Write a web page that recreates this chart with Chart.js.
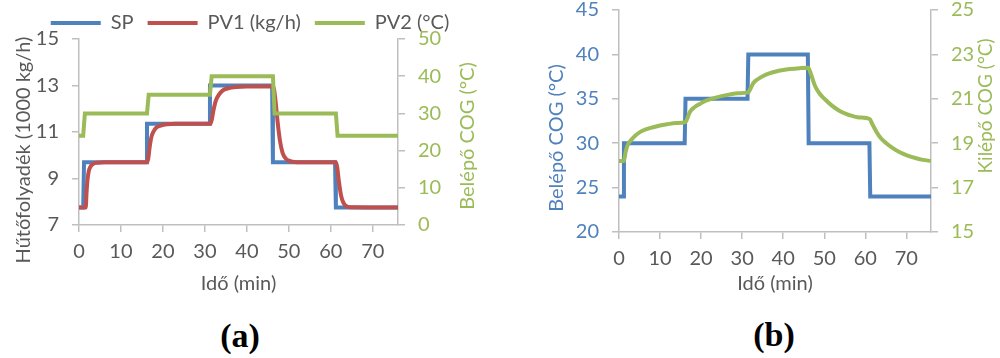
<!DOCTYPE html>
<html>
<head>
<meta charset="utf-8">
<script src="https://cdn.jsdelivr.net/npm/chart.js@4.4.1/dist/chart.umd.min.js"></script>
<style>
  body { margin: 0; background: #fff; }
  #wrap { position: relative; width: 1000px; height: 358px; }
  canvas { position: absolute; top: 0; }
  #chartA { left: 0; }
  #chartB { left: 500px; }
  .tag {
    position: absolute;
    font-family: "Liberation Serif", "Times New Roman", serif;
    font-weight: bold;
    font-size: 34px;
    transform: translate(-50%, -50%);
  }
</style>
</head>
<body>
<div id="wrap">
  <canvas id="chartA" width="500" height="300"></canvas>
  <canvas id="chartB" width="500" height="300"></canvas>
  <div class="tag" style="left:240px; top:336px">(a)</div>
  <div class="tag" style="left:774px; top:335px">(b)</div>
</div>
<script>
// --- data (time in min) ---

// (a) cooling liquid flow, SP and PV1 in 1000 kg/h, PV2 in °C
const spTime = [0, 1, 1.2, 16, 16.2, 31, 31.2, 46, 46.2, 61, 61.2, 76];
const spFlow = [7.75, 7.75, 9.7, 9.7, 11.35, 11.35, 13, 13, 9.7, 9.7, 7.75, 7.75];

const pv1Time = [0, 1.6, 1.8, 2.0, 2.3, 2.7, 3.3, 4.5, 6,
  16.2, 16.5, 16.8, 17.2, 17.7, 18.5, 19.5, 21, 23,
  31.3, 31.6, 32.0, 32.6, 33.3, 34.2, 35.5, 37.5, 40, 46.2,
  46.5, 46.9, 47.4, 47.9, 48.5, 49.3, 50.5, 52,
  61.2, 61.5, 61.9, 62.4, 63, 63.8, 65, 76];
const pv1Flow = [7.75, 7.75, 8.4, 8.9, 9.3, 9.5, 9.62, 9.68, 9.7,
  9.7, 9.85, 10.3, 10.75, 11.0, 11.2, 11.28, 11.33, 11.35,
  11.35, 11.5, 11.9, 12.35, 12.6, 12.78, 12.88, 12.94, 12.96, 12.96,
  12.8, 12.2, 11.3, 10.6, 10.1, 9.85, 9.74, 9.7,
  9.7, 9.5, 8.9, 8.3, 7.95, 7.8, 7.76, 7.75];

const pv2Time = [0, 1, 1.4, 16.2, 16.6, 31.2, 31.6, 46.2, 46.6, 61.2, 61.6, 76];
const pv2Temp = [24, 24, 30, 30, 35, 35, 40, 40, 30, 30, 24, 24];

// (b) inlet and outlet COG temperature, °C
const inTime = [0, 1, 1.2, 16, 16.2, 31.3, 31.5, 46, 46.2, 61, 61.2, 76];
const inTemp = [24, 24, 30, 30, 35, 35, 40, 40, 30, 30, 24, 24];

const outTime = [0, 1.2, 1.6, 2.2, 3.0, 4.0, 5.1, 6.5, 8.3, 10, 11.6, 14, 16.2,
  16.6, 17.3, 18.4, 19.7, 21, 22.9, 25, 27, 29, 31.5,
  32, 32.7, 33.8, 35.1, 36.6, 38.4, 40, 41.6, 44, 46.1,
  46.6, 47.7, 48.8, 50.1, 51.5, 53, 54.5, 56.2, 58.5, 61.1,
  61.6, 62.7, 63.8, 65.1, 66.7, 68.4, 70.3, 72.4, 74, 76];
const outTemp = [18.2, 18.2, 18.6, 18.95, 19.15, 19.35, 19.5, 19.62, 19.72, 19.8, 19.85, 19.91, 19.95,
  20.1, 20.42, 20.62, 20.77, 20.9, 21.02, 21.12, 21.2, 21.25, 21.29,
  21.45, 21.7, 21.88, 22.03, 22.15, 22.24, 22.3, 22.34, 22.38, 22.4,
  22.2, 21.6, 21.25, 20.99, 20.75, 20.54, 20.38, 20.26, 20.16, 20.09,
  19.9, 19.52, 19.22, 19.0, 18.78, 18.59, 18.44, 18.32, 18.25, 18.2];

// --- styling ---
const BLUE = '#4F81BD';
const RED = '#C0504D';
const GREEN = '#9BBB59';
const GRAY = '#595959';
const AXIS = '#BFBFBF';
const FONT = 'Lato';
const FS = 20;

const pts = (xs, ys) => xs.map((x, i) => ({ x: x, y: ys[i] }));

// vertical axis titles, drawn bottom-to-top like Excel does on both sides
const titlePlugin = (items) => ({
  id: 'axisTitles',
  afterDraw(chart) {
    const ctx = chart.ctx;
    items.forEach(t => {
      ctx.save();
      ctx.translate(t.x, t.y);
      ctx.rotate(-Math.PI / 2);
      ctx.font = `${t.size || FS}px ${FONT}`;
      ctx.fillStyle = t.color;
      ctx.textAlign = 'center';
      ctx.textBaseline = 'middle';
      ctx.fillText(t.text, 0, 0);
      ctx.restore();
    });
  }
});

// the legend sits a bit closer to the plot in the original
const legendNudge = {
  id: 'legendNudge',
  afterLayout(chart) {
    chart.legend.top += 4;
    chart.legend.bottom += 4;
  }
};

const xAxis = (h) => ({
  type: 'linear', min: 0, max: 76,
  ticks: { stepSize: 10, includeBounds: false, color: GRAY, padding: 8, maxRotation: 0,
           font: { family: FONT, size: FS } },
  grid: { drawOnChartArea: false, tickLength: 7, color: AXIS, lineWidth: 1.5 },
  border: { color: AXIS, width: 1.5 },
  title: { display: true, text: 'Idő (min)', color: GRAY, font: { family: FONT, size: FS },
           padding: { top: 0, bottom: 4 } },
  afterFit: s => { s.height = h; s.paddingLeft = 0; s.paddingRight = 0; }
});

const yAxis = (pos, min, max, step, color, w) => ({
  type: 'linear', position: pos, min: min, max: max,
  ticks: { stepSize: step, color: color, padding: 13, font: { family: FONT, size: FS } },
  grid: { drawOnChartArea: false, tickLength: 7, color: AXIS, lineWidth: 1.5 },
  border: { color: AXIS, width: 1.5 },
  afterFit: s => { s.width = w; s.paddingTop = 0; s.paddingBottom = 0; }
});

const common = {
  responsive: false,
  animation: false,
  devicePixelRatio: 1,
  datasets: { scatter: { showLine: true, pointRadius: 0, pointHoverRadius: 0, borderWidth: 4, pointStyle: 'line' } },
};

new Chart(document.getElementById('chartA'), {
  type: 'scatter',
  data: {
    datasets: [
      { label: 'SP', data: pts(spTime, spFlow), borderColor: BLUE, backgroundColor: BLUE, yAxisID: 'y', order: 2 },
      { label: 'PV1 (kg/h)', data: pts(pv1Time, pv1Flow), borderColor: RED, backgroundColor: RED, yAxisID: 'y', order: 1,
        cubicInterpolationMode: 'monotone' },
      { label: 'PV2 (°C)', data: pts(pv2Time, pv2Temp), borderColor: GREEN, backgroundColor: GREEN, yAxisID: 'y2', order: 0 }
    ]
  },
  options: {
    ...common,
    layout: { autoPadding: false, padding: { top: -5, left: 0, right: 0, bottom: 0 } },
    plugins: {
      tooltip: { enabled: false },
      legend: {
        position: 'top',
        labels: {
          usePointStyle: true, pointStyleWidth: 50, padding: 14, color: GRAY,
          font: { family: FONT, size: FS },
          sort: (a, b) => a.datasetIndex - b.datasetIndex
        }
      }
    },
    scales: {
      x: xAxis(75),
      y: yAxis('left', 7, 15, 2, GRAY, 79),
      y2: yAxis('right', 0, 50, 10, GREEN, 102)
    }
  },
  plugins: [legendNudge, titlePlugin([
    { text: 'Hűtőfolyadék (1000 kg/h)', x: 24, y: 150, color: GRAY },
    { text: 'Belépő COG (°C)', x: 468, y: 136, color: GREEN }
  ])]
});

new Chart(document.getElementById('chartB'), {
  type: 'scatter',
  data: {
    datasets: [
      { label: 'Belépő COG', data: pts(inTime, inTemp), borderColor: BLUE, backgroundColor: BLUE, yAxisID: 'y', order: 1 },
      { label: 'Kilépő COG', data: pts(outTime, outTemp), borderColor: GREEN, backgroundColor: GREEN, yAxisID: 'y2', order: 0,
        cubicInterpolationMode: 'monotone' }
    ]
  },
  options: {
    ...common,
    layout: { autoPadding: false, padding: { top: 10, left: 0, right: 0, bottom: 0 } },
    plugins: { tooltip: { enabled: false }, legend: { display: false } },
    scales: {
      x: xAxis(68),
      y: yAxis('left', 20, 45, 5, BLUE, 119),
      y2: yAxis('right', 15, 25, 2, GREEN, 69)
    }
  },
  plugins: [titlePlugin([
    { text: 'Belépő COG (°C)', x: 57, y: 138, color: BLUE },
    { text: 'Kilépő COG (°C)', x: 486, y: 106, color: GREEN, size: 19 }
  ])]
});
</script>
</body>
</html>
